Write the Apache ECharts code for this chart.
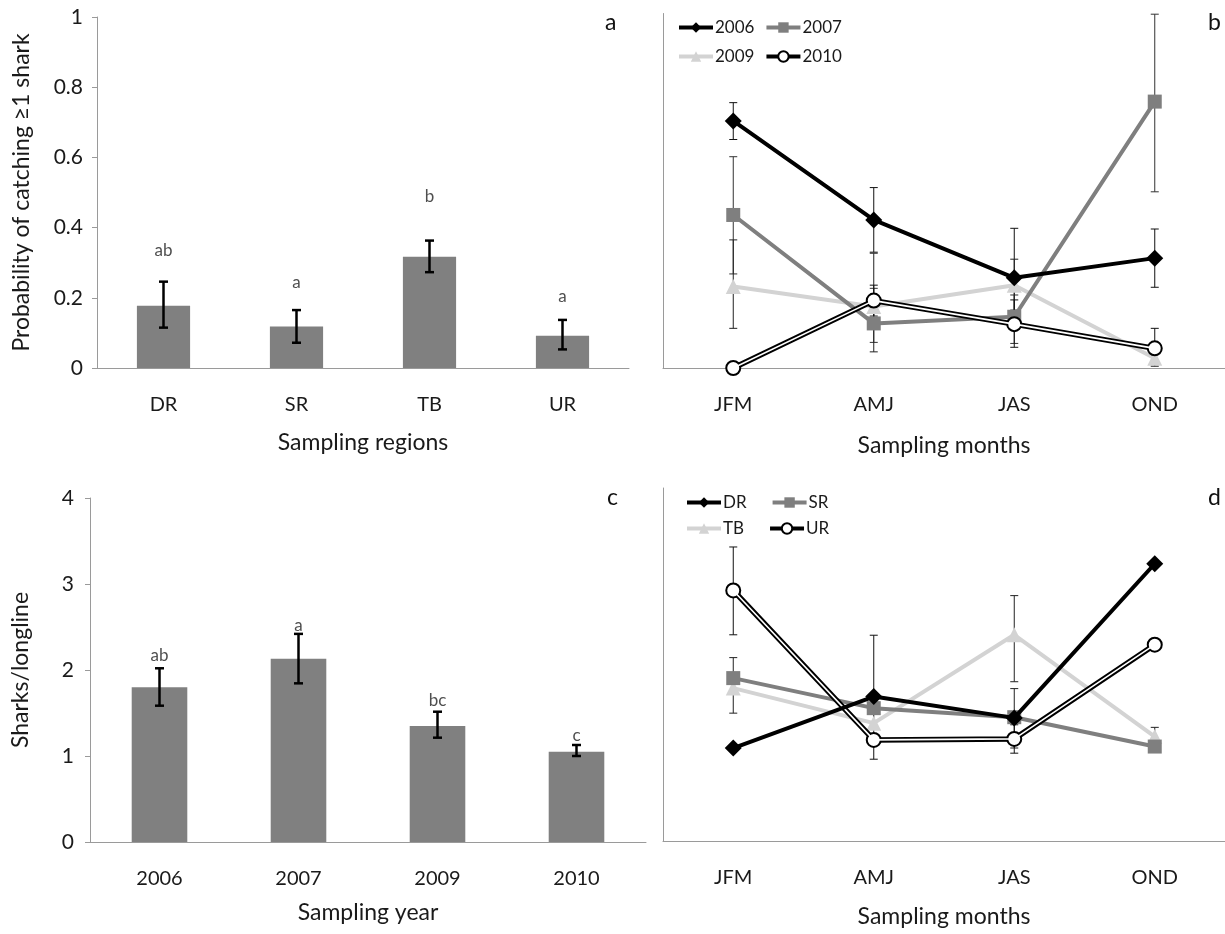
<!DOCTYPE html>
<html>
<head>
<meta charset="utf-8">
<script src="https://cdn.jsdelivr.net/npm/echarts@6/dist/echarts.min.js"></script>
<style>html,body{margin:0;padding:0;background:#fff}#c{width:1225px;height:934px}</style>
</head>
<body>
<div id="c"></div>
<script>
// ---------- Panel a: probability by region ----------
const regions = ['DR', 'SR', 'TB', 'UR'];
const probRegion = [0.177, 0.118, 0.317, 0.092];
const probRegionLow = [0.115, 0.072, 0.273, 0.053];
const probRegionHigh = [0.246, 0.165, 0.363, 0.137];
const lettersRegion = ['ab', 'a', 'b', 'a'];
const letterYRegion = [0.336, 0.243, 0.488, 0.203];

// ---------- Panel b: probability by month and year ----------
const months = ['JFM', 'AMJ', 'JAS', 'OND'];
const p2006 = [0.704, 0.422, 0.257, 0.313];
const p2006Low = [0.651, 0.330, 0.116, 0.230];
const p2006High = [0.756, 0.514, 0.398, 0.396];
const p2007 = [0.436, 0.127, 0.146, 0.759];
const p2007Low = [0.268, 0.073, 0.070, 0.502];
const p2007High = [0.602, 0.227, 0.208, 1.008];
const p2009 = [0.232, 0.175, 0.236, 0.028];
const p2009Low = [0.113, 0.046, 0.165, 0.005];
const p2009High = [0.365, 0.327, 0.310, 0.050];
const p2010 = [0.000, 0.192, 0.125, 0.056];
const p2010Low = [null, 0.148, 0.059, 0.009];
const p2010High = [null, 0.236, 0.194, 0.113];

// ---------- Panel c: sharks per longline by year ----------
const years = ['2006', '2007', '2009', '2010'];
const rateYear = [1.80, 2.13, 1.35, 1.05];
const rateYearLow = [1.585, 1.845, 1.213, 1.00];
const rateYearHigh = [2.02, 2.42, 1.515, 1.128];
const lettersYear = ['ab', 'a', 'bc', 'c'];
const letterYYear = [2.174, 2.52, 1.65, 1.233];

// ---------- Panel d: sharks per longline by month and region ----------
const rDR = [1.08, 1.678, 1.43, 3.22];
const rDRLow = [null, 0.95, null, null];
const rDRHigh = [null, 2.39, null, null];
const rSR = [1.892, 1.543, 1.438, 1.097];
const rSRLow = [null, null, 1.08, null];
const rSRHigh = [null, null, 1.77, null];
const rTB = [1.776, 1.369, 2.395, 1.213];
const rTBLow = [1.485, null, 1.85, 1.10];
const rTBHigh = [2.13, null, 2.85, 1.32];
const rUR = [2.91, 1.174, 1.186, 2.28];
const rURLow = [2.395, null, 1.02, null];
const rURHigh = [3.415, null, 1.35, null];

const FONT = 'Lato';
const AXIS_COLOR = '#9a9a9a';

function errData(lo, hi) {
  const out = [];
  for (let i = 0; i < lo.length; i++) {
    if (lo[i] != null && hi[i] != null) out.push([i, lo[i], hi[i]]);
  }
  return out;
}
function errSeries(xi, lo, hi, capW, lw, color) {
  return {
    type: 'custom', xAxisIndex: xi, yAxisIndex: xi, z: 1, silent: true,
    data: errData(lo, hi),
    encode: { x: 0, y: [1, 2] },
    renderItem: function (params, api) {
      const x = api.value(0);
      const a = api.coord([x, api.value(1)]);
      const b = api.coord([x, api.value(2)]);
      const st = { stroke: color, lineWidth: lw };
      return {
        type: 'group',
        children: [
          { type: 'line', shape: { x1: a[0], y1: a[1], x2: b[0], y2: b[1] }, style: st },
          { type: 'line', shape: { x1: a[0] - capW / 2, y1: a[1], x2: a[0] + capW / 2, y2: a[1] }, style: st },
          { type: 'line', shape: { x1: b[0] - capW / 2, y1: b[1], x2: b[0] + capW / 2, y2: b[1] }, style: st }
        ]
      };
    }
  };
}
function letterSeries(xi, ys, letters) {
  return {
    type: 'scatter', xAxisIndex: xi, yAxisIndex: xi, symbolSize: 1, silent: true,
    itemStyle: { color: 'transparent' },
    data: ys.map((v, i) => [i, v]),
    label: {
      show: true, position: 'inside', color: '#222', fontFamily: FONT, fontSize: 17,
      formatter: p => letters[p.dataIndex]
    }
  };
}
function lineSeries(name, xi, data, color, symbol, size, width, z) {
  return {
    name: name, type: 'line', xAxisIndex: xi, yAxisIndex: xi, data: data,
    symbol: symbol, symbolSize: size, z: z || 3,
    lineStyle: { color: color, width: width },
    itemStyle: { color: color, borderWidth: 0 }
  };
}
function doubleLine(name, xi, data) {
  return [
    {
      name: name, type: 'line', xAxisIndex: xi, yAxisIndex: xi, data: data, z: 4,
      symbol: 'circle', symbolSize: 14,
      lineStyle: { color: '#000', width: 5.5 },
      itemStyle: { color: '#fff', borderColor: '#000', borderWidth: 2 }
    },
    {
      type: 'line', xAxisIndex: xi, yAxisIndex: xi, data: data, z: 5, silent: true,
      symbol: 'none', lineStyle: { color: '#fff', width: 1.6 }
    }
  ];
}

const axisLineStyle = { show: true, lineStyle: { color: AXIS_COLOR, width: 1 } };
const catLabel = { fontFamily: FONT, fontSize: 20, color: '#1a1a1a', margin: 27 };
const nameStyle = { fontFamily: FONT, fontSize: 23, color: '#1a1a1a' };

function xCat(gi, cats, name, gap) {
  return {
    type: 'category', gridIndex: gi, data: cats, boundaryGap: true,
    axisLine: axisLineStyle, axisTick: { show: false }, axisLabel: catLabel,
    name: name, nameLocation: 'middle', nameGap: gap, nameTextStyle: nameStyle
  };
}
function legendRow(items, left, top, gap) {
  return {
    data: items, left: left, top: top, itemWidth: 34, itemHeight: 13, itemGap: gap,
    lineStyle: { width: 4 },
    textStyle: { fontFamily: FONT, fontSize: 17, color: '#1a1a1a', padding: [0, 0, 0, -3] }
  };
}

const letterStyle = { fontFamily: FONT, fontSize: 23, fontWeight: 'normal', color: '#111' };

const option = {
  animation: false,
  backgroundColor: '#fff',
  textStyle: { fontFamily: FONT },
  title: [
    { text: 'a', left: 600, top: 6, textStyle: letterStyle },
    { text: 'b', left: 1203, top: 6, textStyle: letterStyle },
    { text: 'c', left: 602, top: 481, textStyle: letterStyle },
    { text: 'd', left: 1203, top: 481, textStyle: letterStyle }
  ],
  legend: [
    legendRow(['2006', '2007'], 672, 14, 10),
    legendRow(['2009', '2010'], 672, 43, 10),
    legendRow(['DR', 'SR'], 680, 489, 24),
    legendRow(['TB', 'UR'], 680, 515, 24)
  ],
  grid: [
    { left: 97, top: 17, width: 532, height: 351 },
    { left: 663, top: 13.5, width: 562, height: 354.5 },
    { left: 90, top: 498, width: 556, height: 344 },
    { left: 663, top: 488, width: 562, height: 353 }
  ],
  xAxis: [
    xCat(0, regions, 'Sampling regions', 63),
    xCat(1, months, 'Sampling months', 66),
    xCat(2, years, 'Sampling year', 59),
    xCat(3, months, 'Sampling months', 64)
  ],
  yAxis: [
    { type: 'value', gridIndex: 0, min: 0, max: 1, interval: 0.2,
      axisLine: axisLineStyle, axisTick: { show: true, length: 5, lineStyle: { color: AXIS_COLOR } },
      splitLine: { show: false },
      axisLabel: { fontFamily: FONT, fontSize: 21, color: '#1a1a1a', margin: 14 },
      name: 'Probability of catching \u22651 shark', nameLocation: 'middle', nameGap: 64, nameTextStyle: nameStyle },
    { type: 'value', gridIndex: 1, min: 0, max: 1.01,
      axisLine: axisLineStyle, axisTick: { show: false }, splitLine: { show: false }, axisLabel: { show: false } },
    { type: 'value', gridIndex: 2, min: 0, max: 4, interval: 1,
      axisLine: axisLineStyle, axisTick: { show: true, length: 5, lineStyle: { color: AXIS_COLOR } },
      splitLine: { show: false },
      axisLabel: { fontFamily: FONT, fontSize: 21, color: '#1a1a1a', margin: 16 },
      name: 'Sharks/longline', nameLocation: 'middle', nameGap: 58, nameTextStyle: nameStyle },
    { type: 'value', gridIndex: 3, min: 0, max: 4.1,
      axisLine: axisLineStyle, axisTick: { show: false }, splitLine: { show: false }, axisLabel: { show: false } }
  ],
  series: [
    // panel a
    { type: 'bar', xAxisIndex: 0, yAxisIndex: 0, data: probRegion, barWidth: '40%',
      itemStyle: { color: '#808080' }, z: 2 },
    Object.assign(errSeries(0, probRegionLow, probRegionHigh, 9, 2.5, '#000'), { z: 3 }),
    letterSeries(0, letterYRegion, lettersRegion),
    // panel b
    errSeries(1, p2006Low, p2006High, 8, 1, '#111'),
    errSeries(1, p2007Low, p2007High, 8, 1, '#333'),
    errSeries(1, p2009Low, p2009High, 8, 1, '#222'),
    errSeries(1, p2010Low, p2010High, 8, 1, '#111'),
    lineSeries('2006', 1, p2006, '#000000', 'diamond', 17, 4, 6),
    lineSeries('2007', 1, p2007, '#7f7f7f', 'rect', 14, 4, 3),
    lineSeries('2009', 1, p2009, '#d3d3d3', 'triangle', 15, 4, 2),
    ...doubleLine('2010', 1, p2010),
    // panel c
    { type: 'bar', xAxisIndex: 2, yAxisIndex: 2, data: rateYear, barWidth: '40%',
      itemStyle: { color: '#808080' }, z: 2 },
    Object.assign(errSeries(2, rateYearLow, rateYearHigh, 9, 2.5, '#000'), { z: 3 }),
    letterSeries(2, letterYYear, lettersYear),
    // panel d
    errSeries(3, rDRLow, rDRHigh, 8, 1, '#111'),
    errSeries(3, rSRLow, rSRHigh, 8, 1, '#222'),
    errSeries(3, rTBLow, rTBHigh, 8, 1, '#222'),
    errSeries(3, rURLow, rURHigh, 8, 1, '#111'),
    lineSeries('DR', 3, rDR, '#000000', 'diamond', 17, 4, 6),
    lineSeries('SR', 3, rSR, '#7f7f7f', 'rect', 14, 4, 3),
    lineSeries('TB', 3, rTB, '#d3d3d3', 'triangle', 15, 4, 2),
    ...doubleLine('UR', 3, rUR)
  ]
};

const chart = echarts.init(document.getElementById('c'), null, { renderer: 'canvas' });
chart.setOption(option);
</script>
</body>
</html>
